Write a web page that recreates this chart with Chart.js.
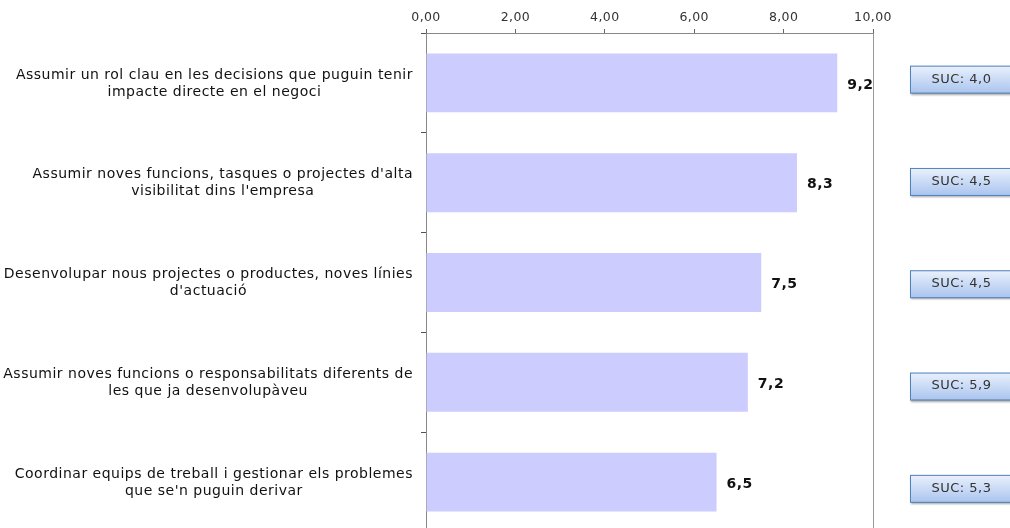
<!DOCTYPE html>
<html>
<head>
<meta charset="utf-8">
<script src="https://cdn.jsdelivr.net/npm/chart.js@4/dist/chart.umd.min.js"></script>
<style>
    html, body { margin: 0; padding: 0; background: #fff; overflow: hidden; }
    #wrap { position: relative; width: 1010px; height: 532px; }
</style>
</head>
<body>
<div id="wrap"><canvas id="grafic"></canvas></div>
<script>
// Dades del gràfic
const categories = [
    ['Assumir un rol clau en les decisions que puguin tenir', 'impacte directe en el negoci'],
    ["Assumir noves funcions, tasques o projectes d'alta", "visibilitat dins l'empresa"],
    ['Desenvolupar nous projectes o productes, noves línies', "d'actuació"],
    ['Assumir noves funcions o responsabilitats diferents de', 'les que ja desenvolupàveu'],
    ['Coordinar equips de treball i gestionar els problemes', "que se'n puguin derivar"]
];
const valors = [9.2, 8.3, 7.5, 7.2, 6.5];
const valorsSUC = [4.0, 4.5, 4.5, 5.9, 5.3];
const ticksX = [0, 2, 4, 6, 8, 10];

const FONT = "'DejaVu Sans', Verdana, sans-serif";
const coma = (v, d) => v.toFixed(d).replace('.', ',');

// Espaiat de lletra tipus Verdana per a tot el text del canvas
const espaiat = {
    id: 'espaiat',
    beforeDraw(chart) { chart.ctx.letterSpacing = '0.4px'; }
};

// Etiquetes de l'eix Y centrades per bloc, alineades a la dreta
const etiquetesY = {
    id: 'etiquetesY',
    afterDraw(chart) {
        const ctx = chart.ctx;
        const y = chart.scales.y;
        const dreta = y.right - 5 - 8;
        ctx.save();
        ctx.letterSpacing = '0.5px';
        ctx.font = '14px ' + FONT;
        ctx.fillStyle = '#111';
        ctx.textAlign = 'center';
        ctx.textBaseline = 'middle';
        categories.forEach((linies, i) => {
            const w = Math.max(...linies.map(l => ctx.measureText(l).width));
            const cx = dreta - w / 2;
            const cy = y.getPixelForValue(i) + 0.5;
            const lh = 17;
            linies.forEach((l, k) => {
                ctx.fillText(l, cx, cy + (k - (linies.length - 1) / 2) * lh);
            });
        });
        ctx.restore();
    }
};

// Valors al final de cada barra
const valorsBarres = {
    id: 'valorsBarres',
    afterDatasetsDraw(chart) {
        const ctx = chart.ctx;
        const meta = chart.getDatasetMeta(0);
        ctx.save();
        ctx.letterSpacing = '0.5px';
        ctx.font = 'bold 14px ' + FONT;
        ctx.fillStyle = '#111';
        ctx.textAlign = 'left';
        ctx.textBaseline = 'middle';
        meta.data.forEach((bar, i) => {
            ctx.fillText(coma(valors[i], 1), bar.x + 10, bar.y + 2);
        });
        ctx.restore();
    }
};

// Caixes SUC a la dreta
const caixesSUC = {
    id: 'caixesSUC',
    afterDraw(chart) {
        const ctx = chart.ctx;
        const y = chart.scales.y;
        const x0 = 910, w = 105, h = 27;
        valorsSUC.forEach((v, i) => {
            const cy = y.getPixelForValue(i) + (i - 1.5) * 2.5;
            const top = cy - h / 2;
            ctx.save();
            ctx.shadowColor = 'rgba(0,0,0,0.35)';
            ctx.shadowOffsetX = 1;
            ctx.shadowOffsetY = 2;
            ctx.shadowBlur = 2;
            const g = ctx.createLinearGradient(0, top, 0, top + h);
            g.addColorStop(0, '#eaf1fc');
            g.addColorStop(1, '#abc5ef');
            ctx.fillStyle = g;
            ctx.fillRect(x0, top, w, h);
            ctx.restore();
            ctx.save();
            ctx.strokeStyle = '#4f81bd';
            ctx.lineWidth = 1;
            ctx.strokeRect(x0 + 0.5, top + 0.5, w, h);
            ctx.letterSpacing = '0.5px';
            ctx.font = '13px ' + FONT;
            ctx.fillStyle = '#333';
            ctx.textAlign = 'center';
            ctx.textBaseline = 'middle';
            ctx.fillText('SUC: ' + coma(v, 1), x0 + w / 2 - 1, cy);
            ctx.restore();
        });
    }
};

new Chart(document.getElementById('grafic').getContext('2d'), {
    type: 'bar',
    data: {
        labels: categories,
        datasets: [{
            data: valors,
            backgroundColor: '#ccccff',
            borderWidth: 0,
            categoryPercentage: 1,
            barPercentage: 0.59
        }]
    },
    options: {
        indexAxis: 'y',
        responsive: true,
        maintainAspectRatio: false,
        animation: false,
        layout: { padding: { left: 0, right: 137, top: 0, bottom: 0 } },
        plugins: {
            legend: { display: false },
            tooltip: { enabled: false }
        },
        scales: {
            x: {
                position: 'top',
                min: 0,
                max: 10,
                afterBuildTicks: s => { s.ticks = ticksX.map(v => ({ value: v })); },
                afterFit: s => { s.height = 33; },
                border: { color: '#888', width: 1 },
                grid: {
                    color: c => (c.tick && c.tick.value === 10 ? '#999' : 'rgba(0,0,0,0)'),
                    tickColor: '#666',
                    tickLength: 4,
                    lineWidth: 1
                },
                ticks: {
                    padding: 4,
                    color: '#333',
                    font: { family: FONT, size: 12.5 },
                    callback: v => coma(v, 2)
                }
            },
            y: {
                afterFit: s => { s.width = 426; },
                border: { color: '#888', width: 1 },
                grid: {
                    drawOnChartArea: false,
                    tickColor: '#555',
                    tickLength: 5
                },
                ticks: { display: false }
            }
        }
    },
    plugins: [espaiat, etiquetesY, valorsBarres, caixesSUC]
});
</script>
</body>
</html>
